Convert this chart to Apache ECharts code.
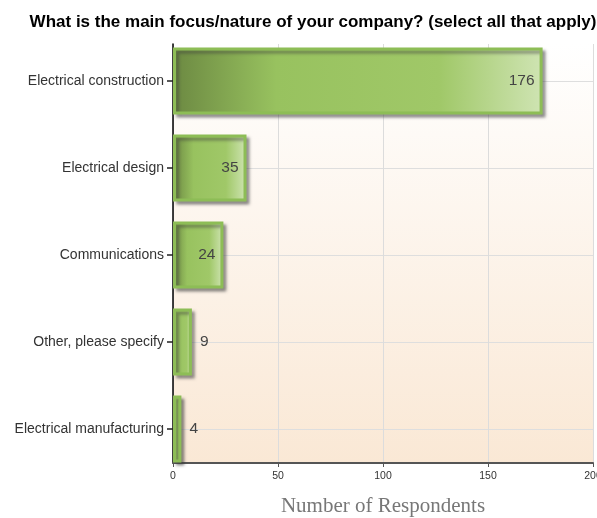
<!DOCTYPE html>
<html>
<head>
<meta charset="utf-8">
<script src="https://cdn.jsdelivr.net/npm/echarts@6/dist/echarts.min.js"></script>
<style>
  html, body { margin: 0; padding: 0; background: #fff; }
  #chart { width: 597px; height: 518px; }
</style>
</head>
<body>
<div id="chart"></div>
<script>
// Survey answers and respondent counts
const categories = [
  'Electrical construction',
  'Electrical design',
  'Communications',
  'Other, please specify',
  'Electrical manufacturing'
];
const respondents = [176, 35, 24, 9, 4];
const xTicks = { min: 0, max: 200, interval: 50 };

const chart = echarts.init(document.getElementById('chart'), null, { renderer: 'canvas' });

const barFill = {
  type: 'linear', x: 0, y: 0, x2: 1, y2: 0,
  colorStops: [
    { offset: 0, color: '#6c8942' },
    { offset: 0.28, color: '#98c25f' },
    { offset: 0.72, color: '#a0c868' },
    { offset: 1, color: '#cfe4b3' }
  ]
};

const barData = respondents.map(v => ({
  value: v,
  label: { position: v >= 20 ? 'insideRight' : 'right', distance: 8 }
}));

chart.setOption({
  animation: false,
  title: {
    text: 'What is the main focus/nature of your company? (select all that apply)',
    left: 308, top: 9, textAlign: 'center',
    textStyle: { fontFamily: 'Liberation Sans', fontSize: 17, fontWeight: 'bold', color: '#000' }
  },
  grid: [
    {
      // plot frame: background, value gridlines and the two axis lines
      left: 173, right: 4, top: 44, bottom: 55,
      outerBoundsMode: 'none', containLabel: false,
      show: true, borderWidth: 0,
      backgroundColor: {
        type: 'linear', x: 0, y: 0, x2: 0, y2: 1,
        colorStops: [
          { offset: 0, color: '#ffffff' },
          { offset: 1, color: '#fae8d5' }
        ]
      }
    },
    {
      // category rows, first at the top tick and last at the bottom tick
      left: 173, right: 4, top: 81, bottom: 89,
      outerBoundsMode: 'none', containLabel: false
    }
  ],
  xAxis: [
    {
      gridIndex: 0, type: 'value',
      min: xTicks.min, max: xTicks.max, interval: xTicks.interval,
      name: 'Number of Respondents', nameLocation: 'middle', nameGap: 33,
      nameTextStyle: { fontFamily: 'Liberation Serif', fontSize: 21, color: '#777' },
      axisLine: { show: true, lineStyle: { color: '#555', width: 2 } },
      axisTick: { show: true, length: 4, lineStyle: { color: '#555' } },
      axisLabel: { fontFamily: 'Liberation Sans', fontSize: 10.5, color: '#333', margin: 8 },
      splitLine: { show: true, lineStyle: { color: '#dcdcdc', width: 1 } }
    },
    {
      gridIndex: 1, type: 'value',
      min: xTicks.min, max: xTicks.max, interval: xTicks.interval,
      show: false, splitLine: { show: false }
    }
  ],
  yAxis: [
    {
      gridIndex: 0, type: 'value', min: 0, max: 1,
      axisLine: { show: true, onZero: false, lineStyle: { color: '#000', width: 1.5 } },
      axisTick: { show: false }, axisLabel: { show: false }, splitLine: { show: false }
    },
    {
      gridIndex: 1, type: 'category', data: categories, inverse: true,
      boundaryGap: false,
      axisLine: { show: false },
      axisTick: { show: true, length: 6, inside: false, lineStyle: { color: '#222', width: 1.5 } },
      axisLabel: { fontFamily: 'Liberation Sans', fontSize: 14, color: '#333', margin: 9 },
      splitLine: { show: true, lineStyle: { color: '#dedede', width: 1 } }
    }
  ],
  series: [{
    type: 'bar',
    xAxisIndex: 1, yAxisIndex: 1,
    data: barData,
    barWidth: 67,
    clip: false,
    itemStyle: {
      color: barFill,
      borderColor: '#8dbd56',
      borderWidth: 3,
      shadowColor: 'rgba(60,60,60,0.5)',
      shadowBlur: 3,
      shadowOffsetX: 3,
      shadowOffsetY: 3
    },
    label: {
      show: true,
      fontFamily: 'Liberation Sans', fontSize: 15.5, color: '#444'
    }
  }]
});
</script>
</body>
</html>
